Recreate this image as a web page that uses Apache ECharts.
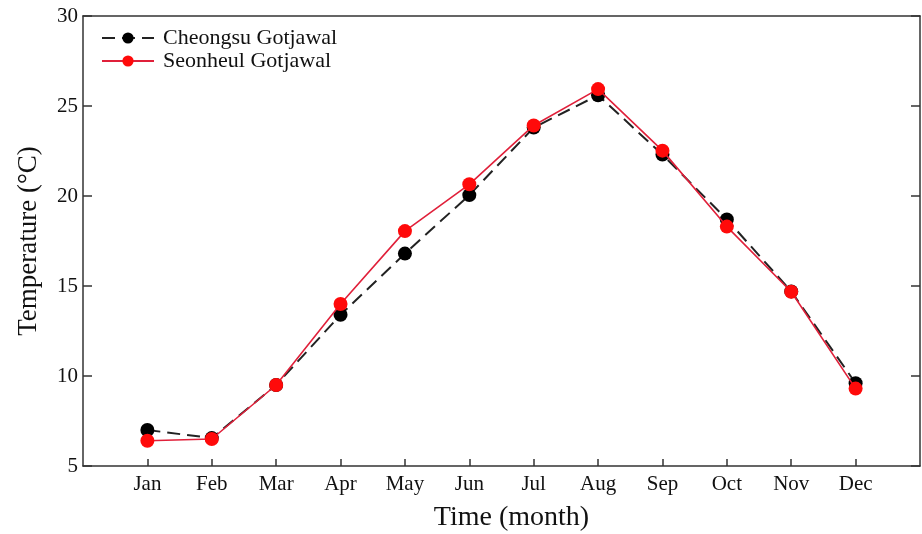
<!DOCTYPE html>
<html><head><meta charset="utf-8">
<script src="https://cdn.jsdelivr.net/npm/echarts@6/dist/echarts.min.js"></script>
<style>html,body{margin:0;padding:0;background:#fff}#c{width:922px;height:534px}</style>
</head><body><div id="c"></div>
<script>
const months = ['Jan','Feb','Mar','Apr','May','Jun','Jul','Aug','Sep','Oct','Nov','Dec'];
const cheongsu = [7.0, 6.55, 9.5, 13.4, 16.8, 20.05, 23.8, 25.6, 22.3, 18.7, 14.7, 9.6];
const seonheul = [6.4, 6.5, 9.5, 14.0, 18.05, 20.65, 23.92, 25.94, 22.52, 18.3, 14.68, 9.3];
const yTicks = [5, 10, 15, 20, 25, 30];

const font = '"Liberation Serif", "DejaVu Serif", serif';
const axisColor = '#333';
const toPairs = arr => arr.map((v, i) => [i + 1, v]);

const chart = echarts.init(document.getElementById('c'), null, {renderer: 'canvas'});
chart.setOption({
  animation: false,
  backgroundColor: '#fff',
  grid: {left: 83, right: 2, top: 16, bottom: 68, containLabel: false, outerBoundsMode: 'none'},
  legend: {
    left: 96, top: 22, orient: 'vertical', itemGap: 1,
    itemWidth: 52, itemHeight: 14,
    textStyle: {fontFamily: font, fontSize: 22, color: '#111', padding: [0, 0, 0, 4]},
    data: ['Cheongsu Gotjawal', 'Seonheul Gotjawal']
  },
  xAxis: [{
    type: 'value', min: 0, max: 13, interval: 1,
    name: 'Time (month)', nameLocation: 'middle', nameGap: 38,
    nameTextStyle: {fontFamily: font, fontSize: 28, color: '#111', padding: [0, 0, 0, 20]},
    axisLine: {show: true, onZero: false, lineStyle: {color: axisColor, width: 1.5}},
    axisTick: {show: true, inside: true, length: 7, lineStyle: {color: axisColor, width: 1.5}},
    splitLine: {show: false},
    axisLabel: {
      fontFamily: font, fontSize: 21, color: '#111', margin: 8,
      showMinLabel: false, showMaxLabel: false,
      formatter: v => (v >= 1 && v <= 12 ? months[v - 1] : '')
    }
  }, {
    type: 'value', min: 0, max: 13, position: 'top',
    axisLine: {show: true, onZero: false, lineStyle: {color: axisColor, width: 1.5}},
    axisTick: {show: false}, axisLabel: {show: false}, splitLine: {show: false}
  }],
  yAxis: [{
    type: 'value', min: yTicks[0], max: yTicks[yTicks.length - 1], interval: 5,
    name: 'Temperature (°C)', nameLocation: 'middle', nameGap: 41,
    nameTextStyle: {fontFamily: font, fontSize: 27, color: '#111'},
    axisLine: {show: true, onZero: false, lineStyle: {color: axisColor, width: 1.5}},
    axisTick: {show: true, inside: true, length: 9, lineStyle: {color: axisColor, width: 1.5}},
    splitLine: {show: false},
    axisLabel: {fontFamily: font, fontSize: 21, color: '#111', margin: 5}
  }, {
    type: 'value', min: yTicks[0], max: yTicks[yTicks.length - 1], interval: 5, position: 'right',
    axisLine: {show: true, onZero: false, lineStyle: {color: axisColor, width: 1.5}},
    axisTick: {show: true, inside: true, length: 9, lineStyle: {color: axisColor, width: 1.5}},
    axisLabel: {show: false}, splitLine: {show: false}
  }],
  series: [{
    name: 'Cheongsu Gotjawal', type: 'line', xAxisIndex: 0, yAxisIndex: 0,
    data: toPairs(cheongsu),
    symbol: 'circle', symbolSize: 14,
    itemStyle: {color: '#000'},
    lineStyle: {color: '#222', width: 2, type: [13, 7]},
    z: 2
  }, {
    name: 'Seonheul Gotjawal', type: 'line', xAxisIndex: 0, yAxisIndex: 0,
    data: toPairs(seonheul),
    symbol: 'circle', symbolSize: 14,
    itemStyle: {color: '#ff0a0a'},
    lineStyle: {color: '#e0203a', width: 1.6},
    z: 3
  }]
});
</script></body></html>
